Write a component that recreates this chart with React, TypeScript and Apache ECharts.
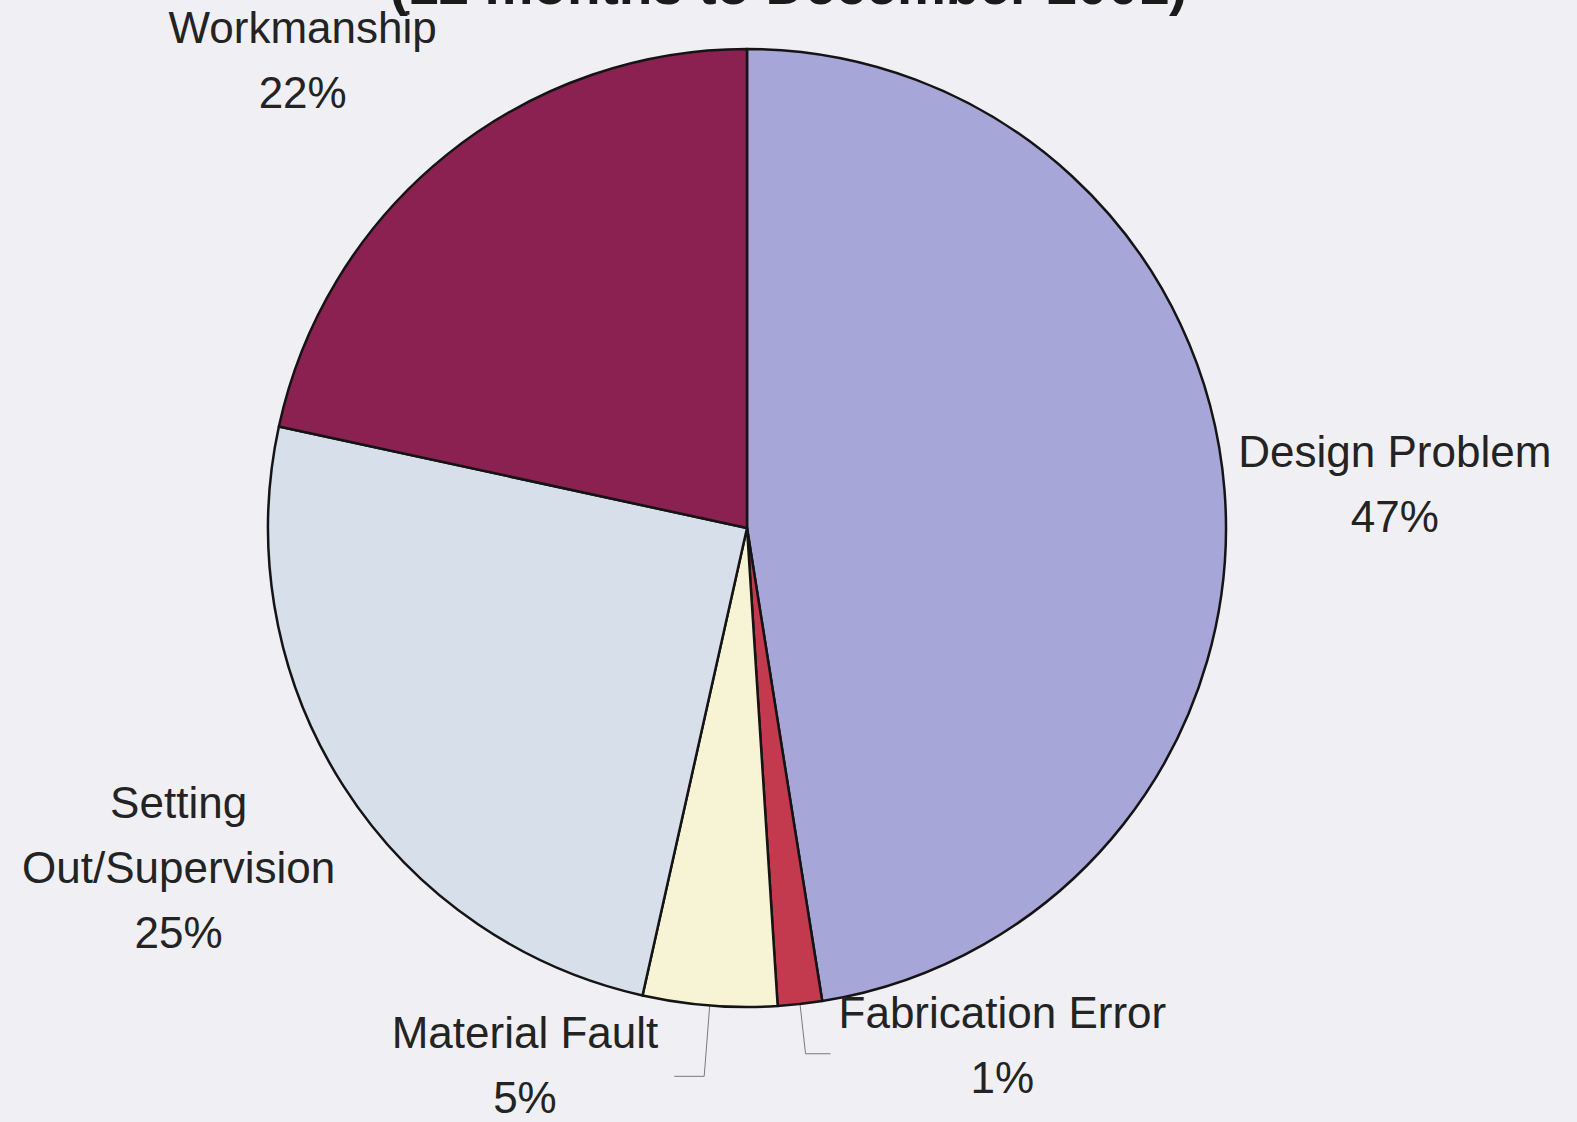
import React, { useEffect, useRef } from "react";
import * as echarts from "echarts";

// ---- data ----
const categories = [
  "Design Problem",
  "Fabrication Error",
  "Material Fault",
  "Setting Out/Supervision",
  "Workmanship",
];
const values = [47.49, 1.49, 4.52, 24.9, 21.6];
const titleText = "(12 months to December 2001)";

// ---- styling / label layout (not data) ----
const sliceColors = ["#a6a6d9", "#c33a4e", "#f7f4d6", "#d6dfea", "#8a2150"];
const lineLen = [80, 50, 71, 151, 122];
const lineLen2 = [-71, 25, 30, -124, -72];
const labelGap = [5, 8, 16, 5, 5];
const showLine = [false, true, true, false, false];
const padBottom = [0, 18, 22, 0, 0];

const FONT = '"Liberation Sans", Arial, Helvetica, sans-serif';

export default function App() {
  const ref = useRef<HTMLDivElement>(null);

  useEffect(() => {
    if (!ref.current) return;
    const chart = echarts.init(ref.current, undefined, { renderer: "svg" });

    const data = categories.map((name, i) => ({
      name,
      value: values[i],
      itemStyle: { color: sliceColors[i] },
      label: {
        distanceToLabelLine: labelGap[i],
        padding: [0, 0, padBottom[i], 0],
      },
      labelLine: {
        show: showLine[i],
        length: lineLen[i],
        length2: lineLen2[i],
      },
    }));

    chart.setOption({
      animation: false,
      backgroundColor: "#f0eff4",
      graphic: [
        {
          type: "text",
          left: "center",
          top: -43,
          style: {
            text: titleText,
            font: `bold 55px ${FONT}`,
            fill: "#1a1a1a",
          },
        },
      ],
      series: [
        {
          type: "pie",
          center: [747, 528],
          radius: 479,
          startAngle: 90,
          clockwise: true,
          avoidLabelOverlap: false,
          itemStyle: { borderColor: "#141414", borderWidth: 2.5 },
          emphasis: { disabled: true },
          label: {
            show: true,
            position: "outside",
            alignTo: "none",
            formatter: (p: any) =>
              `{t|${String(p.name).replace("Setting ", "Setting\n")}}\n{t|${Math.round(p.percent)}%}`,
            rich: {
              t: {
                fontFamily: FONT,
                fontSize: 44,
                lineHeight: 65,
                color: "#232323",
                align: "center",
              },
            },
          },
          labelLine: {
            lineStyle: { color: "#7a7a7a", width: 1 },
          },
          data,
        },
      ],
    });

    return () => chart.dispose();
  }, []);

  return (
    <div
      ref={ref}
      style={{ position: "fixed", left: 0, top: 0, width: 1577, height: 1122 }}
    />
  );
}
